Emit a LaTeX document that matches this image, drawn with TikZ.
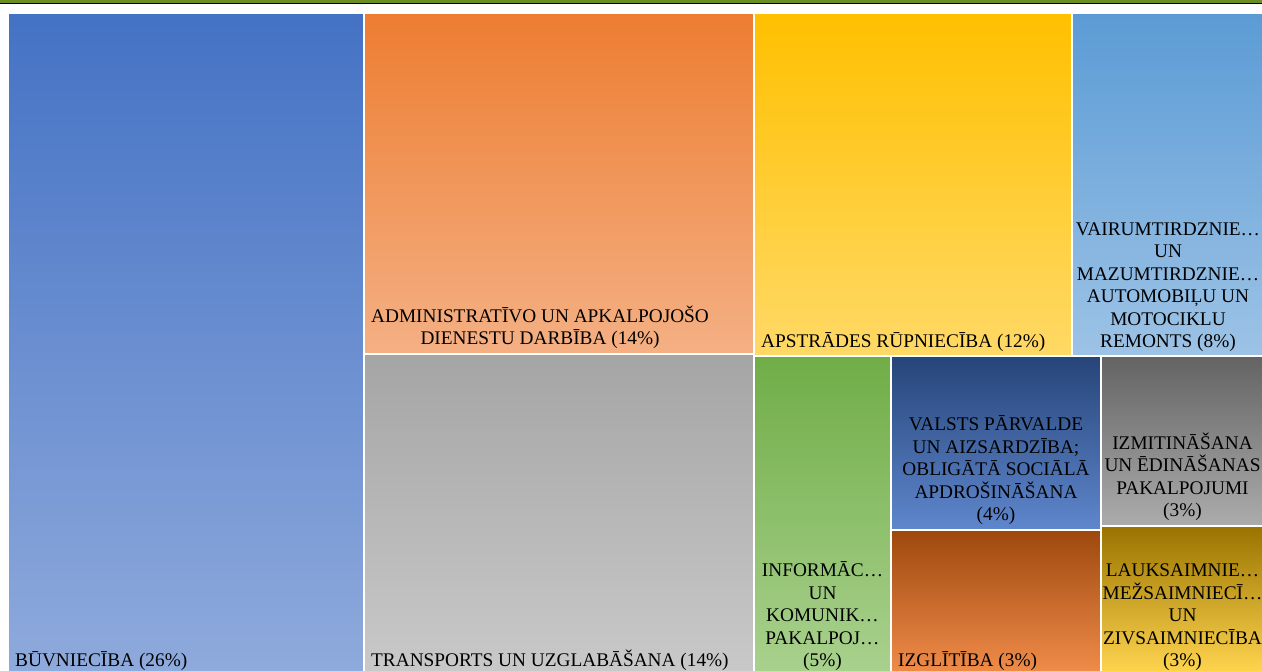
\documentclass[tikz,border=0pt]{standalone}
\usepackage{xcolor}
\usepackage{fontspec}
\setmainfont{Liberation Serif}
\usepackage{tikz}
\usetikzlibrary{positioning}

\definecolor{bar}{RGB}{107,142,35}
\definecolor{bvtop}{RGB}{68,114,196}
\definecolor{bvbot}{RGB}{143,170,220}
\definecolor{adtop}{RGB}{237,125,49}
\definecolor{adbot}{RGB}{244,176,132}
\definecolor{trtop}{RGB}{165,165,165}
\definecolor{trbot}{RGB}{201,201,201}
\definecolor{aptop}{RGB}{255,192,0}
\definecolor{apbot}{RGB}{255,217,102}
\definecolor{vatop}{RGB}{91,155,213}
\definecolor{vabot}{RGB}{157,195,230}
\definecolor{intop}{RGB}{112,173,71}
\definecolor{inbot}{RGB}{169,209,142}
\definecolor{vptop}{RGB}{38,68,120}
\definecolor{vpbot}{RGB}{95,135,205}
\definecolor{iztop}{RGB}{158,72,14}
\definecolor{izbot}{RGB}{240,140,74}
\definecolor{emtop}{RGB}{99,99,99}
\definecolor{embot}{RGB}{172,172,172}
\definecolor{latop}{RGB}{153,115,0}
\definecolor{labot}{RGB}{255,213,79}

\begin{document}
\begin{tikzpicture}[x=1pt, y=-1pt,
		tile/.style={draw=white, line width=2pt, inner sep=0pt, outer sep=0pt, anchor=north west},
		lbl/.style={font=\fontsize{19.3}{22.5}\selectfont, text=black, align=center, inner xsep=7pt, inner ysep=4pt}]
				\fill[white] (0,0) rectangle (1262,671);
				\clip (0,0) rectangle (1262,671);
				\fill[bar] (0,0) rectangle (1262,3);
				\draw[black, line width=0.8pt] (0,3) -- (1262,3);

				\node[tile, top color=bvtop, bottom color=bvbot, minimum width=356pt, minimum height=660pt] (bv) at (8,13) {};
				\node[tile, top color=adtop, bottom color=adbot, minimum width=390pt, minimum height=341pt] (ad) at (364,13) {};
				\node[tile, top color=trtop, bottom color=trbot, minimum width=390pt, minimum height=319pt] (tr) at (364,354) {};
				\node[tile, top color=aptop, bottom color=apbot, minimum width=318pt, minimum height=343pt] (ap) at (754,13) {};
				\node[tile, top color=vatop, bottom color=vabot, minimum width=192pt, minimum height=343pt] (va) at (1072,13) {};
				\node[tile, top color=intop, bottom color=inbot, minimum width=137pt, minimum height=317pt] (in) at (754,356) {};
				\node[tile, top color=vptop, bottom color=vpbot, minimum width=210pt, minimum height=174pt] (vp) at (891,356) {};
				\node[tile, top color=iztop, bottom color=izbot, minimum width=210pt, minimum height=143pt] (iz) at (891,530) {};
				\node[tile, top color=emtop, bottom color=embot, minimum width=163pt, minimum height=170pt] (em) at (1101,356) {};
				\node[tile, top color=latop, bottom color=labot, minimum width=163pt, minimum height=147pt] (la) at (1101,526) {};

				\node[lbl, anchor=south west, yshift=-2pt] (bvl) at (bv.south west) {BŪVNIECĪBA (26\%)};
				\node[lbl, anchor=south west, yshift=1pt] (adl) at (ad.south west) {ADMINISTRATĪVO UN APKALPOJOŠO\\DIENESTU DARBĪBA (14\%)};
				\node[lbl, anchor=south west, yshift=-2pt] (trl) at (tr.south west) {TRANSPORTS UN UZGLABĀŠANA (14\%)};
				\node[lbl, anchor=south west] (apl) at (ap.south west) {APSTRĀDES RŪPNIECĪBA (12\%)};
				\node[lbl, anchor=south] (val) at (va.south) {VAIRUMTIRDZNIE…\\UN\\MAZUMTIRDZNIE…\\AUTOMOBIĻU UN\\MOTOCIKLU\\REMONTS (8\%)};
				\node[lbl, anchor=south, yshift=-2pt] (inl) at (in.south) {INFORMĀC…\\UN\\KOMUNIK…\\PAKALPOJ…\\(5\%)};
				\node[lbl, anchor=south, yshift=1pt] (vpl) at (vp.south) {VALSTS PĀRVALDE\\UN AIZSARDZĪBA;\\OBLIGĀTĀ SOCIĀLĀ\\APDROŠINĀŠANA\\(4\%)};
				\node[lbl, anchor=south west, yshift=-2pt] (izl) at (iz.south west) {IZGLĪTĪBA (3\%)};
				\node[lbl, anchor=south, yshift=1pt] (eml) at (em.south) {IZMITINĀŠANA\\UN ĒDINĀŠANAS\\PAKALPOJUMI\\(3\%)};
				\node[lbl, anchor=south, yshift=-2pt] (lal) at (la.south) {LAUKSAIMNIE…\\MEŽSAIMNIECĪ…\\UN\\ZIVSAIMNIECĪBA\\(3\%)};
			\end{tikzpicture}
\end{document}
